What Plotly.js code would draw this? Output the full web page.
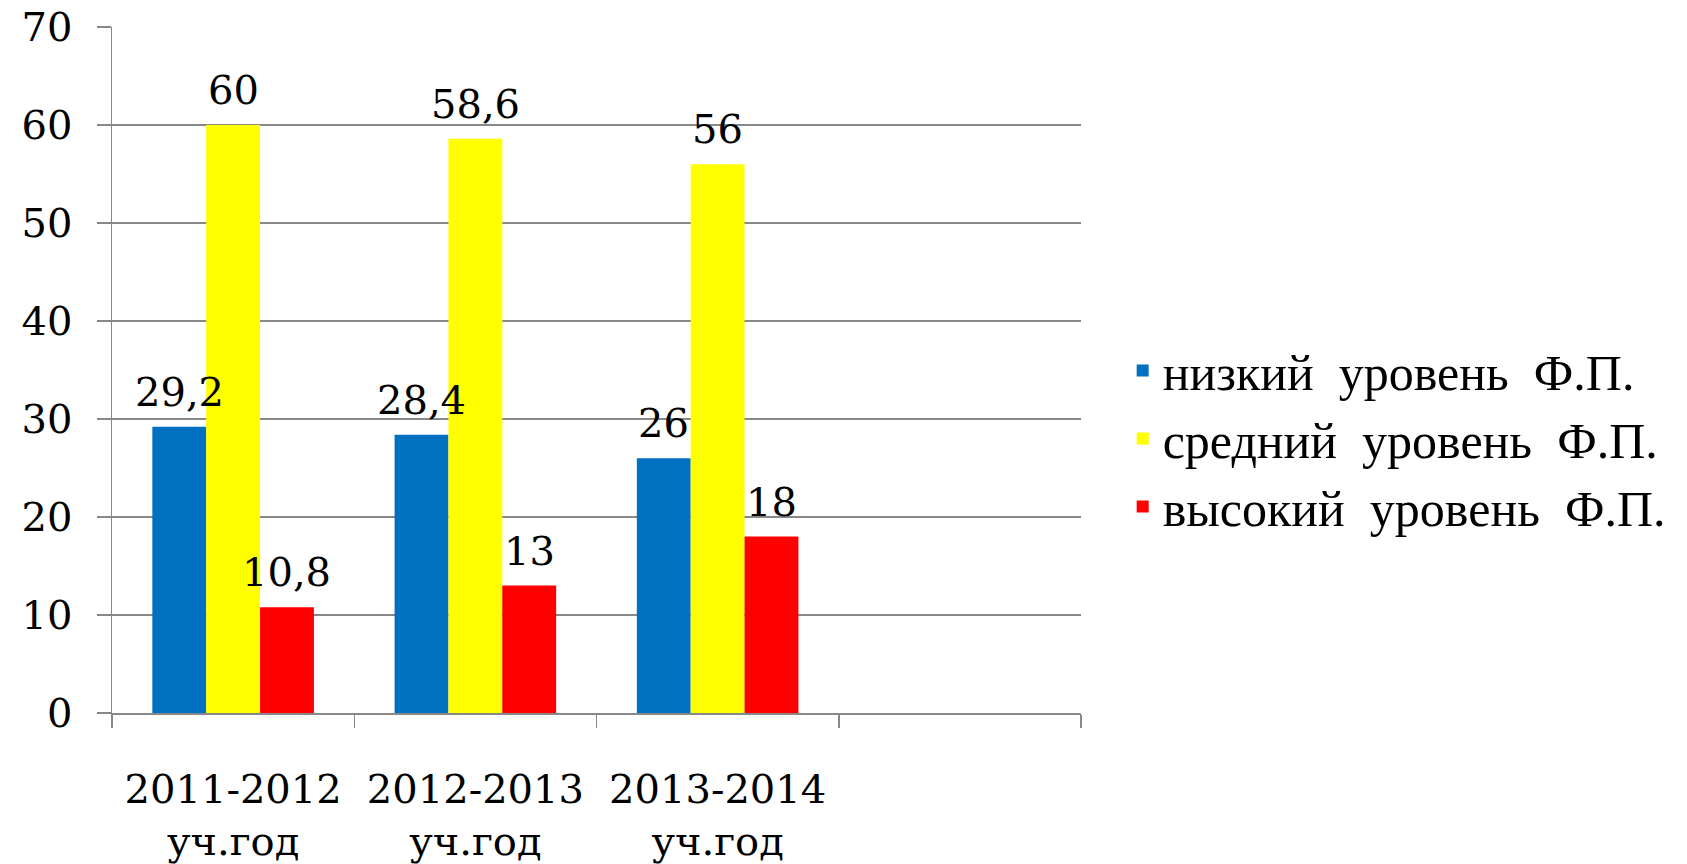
<!DOCTYPE html>
<html>
<head>
<meta charset="utf-8">
<script src="https://cdn.plot.ly/plotly-3.0.1.min.js"></script>
<style>html,body{margin:0;padding:0;background:#fff;}#chart{width:1687px;height:864px;}</style>
</head>
<body>
<div id="chart"></div>
<script>
const categories = ['2011-2012<br>уч.год', '2012-2013<br>уч.год', '2013-2014<br>уч.год'];
const emptySlot = ' ';
const seriesNames = ['низкий\u00a0\u00a0уровень\u00a0\u00a0Ф.П.', 'средний\u00a0\u00a0уровень\u00a0\u00a0Ф.П.', 'высокий\u00a0\u00a0уровень\u00a0\u00a0Ф.П.'];
const lowLevel = [29.2, 28.4, 26];
const midLevel = [60, 58.6, 56];
const highLevel = [10.8, 13, 18];
const colors = ['#0070C0', '#FFFF00', '#FF0000'];
const yTicks = [0, 10, 20, 30, 40, 50, 60, 70];

const serif = 'Liberation Serif, Tinos, Times New Roman, DejaVu Serif, serif';
const valueFont = {family: 'DejaVu Serif', size: 40, color: '#000'};
const series = [lowLevel, midLevel, highLevel];
// bar width per group slot (category width 1, gap 1/3, three bars)
const barW = (1 - 0.333) / 3;
const offsetOf = i => -1.5 * barW + i * barW;

const traces = [0, 1, 2].map(i => ({
  type: 'bar',
  name: seriesNames[i],
  x: categories,
  y: series[i],
  width: barW,
  offset: offsetOf(i),
  marker: {color: colors[i]},
  hoverinfo: 'none'
}));

// value labels, placed at each bar's top through the axes
const fmt = v => String(v).replace('.', ',');
const annotations = [];
series.forEach((vals, i) => {
  vals.forEach((v, c) => {
    annotations.push({
      xref: 'x', yref: 'y',
      x: c + offsetOf(i) + barW / 2,
      y: v,
      text: fmt(v),
      showarrow: false,
      xanchor: 'center', yanchor: 'bottom',
      yshift: 10,
      font: valueFont
    });
  });
});

const layout = {
  width: 1687, height: 864,
  margin: {l: 112, r: 606, t: 27, b: 151},
  paper_bgcolor: '#fff', plot_bgcolor: '#fff',
  barmode: 'overlay',
  showlegend: true,
  font: {family: 'DejaVu Serif', color: '#000'},
  annotations: annotations,
  xaxis: {
    type: 'category',
    categoryorder: 'array',
    categoryarray: categories.concat([emptySlot]),
    range: [-0.5, 3.5],
    tickson: 'boundaries',
    ticks: 'outside', ticklen: 13, tickwidth: 1.5, tickcolor: '#888',
    showgrid: false,
    showline: true, linecolor: '#888', linewidth: 1.5,
    tickfont: {family: 'DejaVu Serif', size: 40, color: '#000'},
    ticklabelstandoff: 40,
    fixedrange: true
  },
  yaxis: {
    range: [0, 70],
    tickvals: yTicks,
    ticks: 'outside', ticklen: 14, tickwidth: 1.5, tickcolor: '#888',
    showgrid: true, gridcolor: '#888', gridwidth: 1.5,
    showline: true, linecolor: '#888', linewidth: 1.5,
    zeroline: false,
    tickfont: {family: 'DejaVu Serif', size: 40, color: '#000'},
    ticklabelstandoff: 16,
    fixedrange: true
  },
  legend: {
    x: 1.043, xanchor: 'left',
    y: 0.40, yanchor: 'middle',
    font: {family: serif, size: 50, color: '#000'},
    bgcolor: 'rgba(0,0,0,0)',
    traceorder: 'normal'
  }
};

Plotly.newPlot('chart', traces, layout, {staticPlot: true});
</script>
</body>
</html>
